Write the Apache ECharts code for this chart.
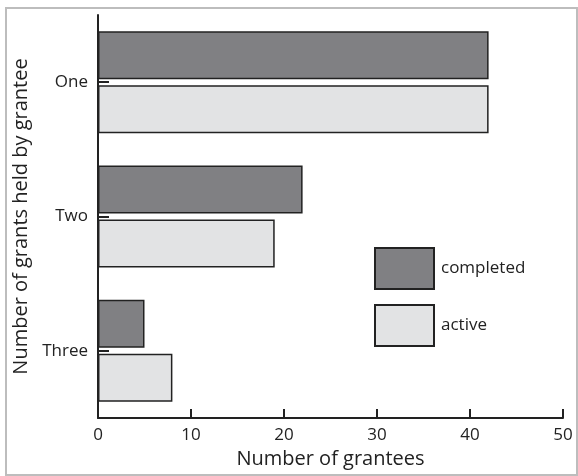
<!DOCTYPE html>
<html>
<head>
<meta charset="utf-8">
<script src="https://cdn.jsdelivr.net/npm/echarts@6/dist/echarts.min.js"></script>
<style>
  html, body { margin: 0; padding: 0; background: #fff; }
  #chart { width: 578px; height: 476px; }
</style>
</head>
<body>
<div id="chart"></div>
<script>
// 每个受资助者持有的资助数量
var categories = ['One', 'Two', 'Three'];
var completedValues = [42, 22, 5];
var activeValues = [42, 19, 8];
var xTicks = { min: 0, max: 50, interval: 10 };

var font = '"Open Sans", sans-serif';
var chart = echarts.init(document.getElementById('chart'));

chart.setOption({
    animation: false,
    graphic: [{
        type: 'rect',
        shape: { x: 6, y: 8, width: 571, height: 467 },
        style: { fill: 'none', stroke: '#bdbdbd', lineWidth: 2 },
        z: -1
    }],
    grid: { left: 98, right: 15, top: 15, bottom: 58 },
    legend: {
        orient: 'vertical',
        left: 369,
        top: 242,
        itemWidth: 59,
        itemHeight: 41,
        itemGap: 14,
        icon: 'rect',
        selectedMode: false,
        textStyle: { color: '#222', fontSize: 17, fontFamily: font, padding: [0, 0, 0, 2] },
        data: ['completed', 'active']
    },
    xAxis: {
        type: 'value',
        min: xTicks.min,
        max: xTicks.max,
        interval: xTicks.interval,
        name: 'Number of grantees',
        nameLocation: 'middle',
        nameGap: 29,
        nameTextStyle: { color: '#222', fontSize: 20, fontFamily: font },
        axisLine: { show: true, lineStyle: { color: '#222', width: 2 } },
        axisTick: { show: true, inside: true, length: 9, lineStyle: { color: '#222', width: 2 } },
        axisLabel: { color: '#222', fontSize: 17, fontFamily: font, margin: 9 },
        splitLine: { show: false }
    },
    yAxis: {
        type: 'category',
        inverse: true,
        data: categories,
        name: 'Number of grants held by grantee',
        nameLocation: 'middle',
        nameGap: 60,
        nameTextStyle: { color: '#222', fontSize: 20, fontFamily: font },
        axisLine: { show: true, lineStyle: { color: '#222', width: 2 } },
        axisTick: { show: true, inside: true, alignWithLabel: true, length: 11, lineStyle: { color: '#222', width: 2 } },
        axisLabel: { color: '#222', fontSize: 17, fontFamily: font, margin: 10 }
    },
    series: [{
        name: 'completed',
        type: 'bar',
        data: completedValues,
        barWidth: 48,
        barGap: '12.5%',
        itemStyle: { color: '#808083', borderColor: '#222', borderWidth: 1.5 }
    }, {
        name: 'active',
        type: 'bar',
        data: activeValues,
        barWidth: 48,
        barGap: '12.5%',
        itemStyle: { color: '#e2e3e4', borderColor: '#222', borderWidth: 1.5 }
    }]
});
</script>
</body>
</html>
